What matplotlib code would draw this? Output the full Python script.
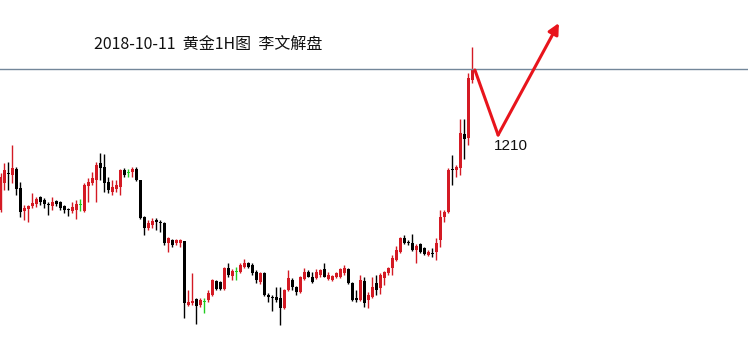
import numpy as np
import matplotlib
matplotlib.use('Agg')
from matplotlib import pyplot as plt

# 1H gold candles (open, high, low, close)
opens = [1209.0, 1211.7, 1212.7, 1212.5, 1213.1, 1211.2, 1208.9, 1209.1, 1209.4, 1209.6,
         1210.3, 1210.0, 1209.6, 1209.4, 1209.9, 1209.8, 1209.4, 1209.1, 1208.9, 1209.0,
         1209.5, 1208.9, 1211.4, 1211.7, 1212.0, 1213.7, 1213.3, 1211.8, 1210.8, 1211.1,
         1211.3, 1213.0, 1212.7, 1212.8, 1213.1, 1212.0, 1208.3, 1207.2, 1207.5, 1208.0,
         1207.8, 1207.7, 1205.7, 1206.0, 1205.7, 1205.7, 1205.9, 1199.5, 1199.7, 1200.1,
         1199.5, 1199.8, 1200.0, 1200.5, 1201.9, 1201.8, 1201.1, 1203.2, 1202.4, 1202.8,
         1202.8, 1203.3, 1203.7, 1203.5, 1202.8, 1201.8, 1202.7, 1200.5, 1200.3, 1200.3,
         1200.2, 1199.2, 1201.0, 1202.0, 1201.3, 1200.8, 1202.1, 1202.8, 1202.3, 1202.2,
         1202.5, 1203.1, 1202.1, 1202.0, 1202.3, 1202.3, 1202.7, 1203.1, 1201.7, 1200.2,
         1200.0, 1201.9, 1200.0, 1200.3, 1201.7, 1201.2, 1202.2, 1202.7, 1203.2, 1204.0,
         1204.8, 1206.2, 1205.8, 1205.7, 1205.0, 1205.6, 1205.2, 1204.5, 1204.7, 1204.8,
         1206.0, 1208.3, 1208.8, 1213.1, 1213.0, 1213.2, 1216.6, 1216.2, 1222.0]
highs = [1212.7, 1213.7, 1213.8, 1215.5, 1213.3, 1211.8, 1209.5, 1209.5, 1210.7, 1210.3,
         1210.4, 1210.2, 1209.8, 1210.3, 1210.0, 1209.9, 1209.5, 1209.2, 1209.8, 1210.0,
         1210.1, 1211.7, 1212.2, 1212.8, 1213.8, 1214.7, 1214.6, 1212.3, 1212.0, 1212.0,
         1213.1, 1213.2, 1213.1, 1213.3, 1213.3, 1212.0, 1208.4, 1208.0, 1208.2, 1208.2,
         1208.0, 1207.8, 1206.3, 1206.1, 1206.1, 1206.1, 1205.9, 1201.0, 1202.7, 1200.2,
         1200.2, 1200.2, 1201.0, 1202.1, 1202.0, 1201.9, 1203.3, 1203.7, 1203.1, 1203.3,
         1203.7, 1204.1, 1203.8, 1203.7, 1203.0, 1202.8, 1202.8, 1200.7, 1200.5, 1201.3,
         1201.3, 1201.1, 1203.0, 1202.2, 1201.4, 1202.4, 1203.2, 1203.0, 1202.8, 1203.1,
         1203.1, 1203.7, 1202.8, 1202.5, 1202.8, 1203.2, 1203.5, 1203.2, 1201.8, 1201.0,
         1202.5, 1202.3, 1200.8, 1202.3, 1202.5, 1202.7, 1202.9, 1203.3, 1204.5, 1205.4,
         1206.3, 1206.5, 1206.0, 1206.6, 1205.6, 1205.7, 1205.3, 1205.0, 1205.2, 1206.2,
         1209.0, 1209.0, 1213.2, 1214.5, 1213.5, 1218.1, 1218.1, 1222.7, 1225.3]
lows = [1208.8, 1211.0, 1211.0, 1211.7, 1210.5, 1208.3, 1208.0, 1207.8, 1209.2, 1209.3,
        1209.5, 1209.2, 1208.5, 1209.0, 1209.4, 1209.0, 1208.7, 1208.4, 1208.7, 1208.1,
        1208.9, 1208.8, 1209.8, 1211.5, 1209.8, 1212.0, 1210.8, 1210.7, 1210.5, 1210.8,
        1210.5, 1212.3, 1212.3, 1212.3, 1211.9, 1208.1, 1206.5, 1207.0, 1207.2, 1207.0,
        1206.8, 1205.5, 1204.8, 1205.3, 1205.5, 1205.3, 1198.2, 1199.4, 1199.5, 1197.6,
        1199.3, 1198.7, 1199.8, 1200.4, 1201.0, 1201.0, 1201.0, 1202.3, 1202.0, 1202.0,
        1202.7, 1203.2, 1203.2, 1202.5, 1201.7, 1201.6, 1200.4, 1199.8, 1198.9, 1199.8,
        1197.5, 1199.1, 1200.9, 1201.0, 1200.5, 1200.7, 1202.0, 1202.3, 1201.7, 1202.1,
        1202.3, 1202.3, 1202.0, 1201.9, 1202.2, 1202.2, 1202.5, 1201.6, 1199.9, 1199.8,
        1199.9, 1199.3, 1199.2, 1200.2, 1200.5, 1200.6, 1201.5, 1202.5, 1202.5, 1203.9,
        1204.7, 1205.6, 1205.5, 1204.9, 1203.7, 1204.7, 1204.5, 1204.4, 1204.3, 1204.0,
        1205.3, 1207.8, 1208.7, 1211.5, 1212.3, 1212.5, 1214.1, 1215.5, 1221.7]
closes = [1212.3, 1213.0, 1212.6, 1213.2, 1211.1, 1208.8, 1209.2, 1209.4, 1209.7, 1210.1,
          1209.8, 1209.6, 1209.5, 1209.8, 1209.6, 1209.2, 1209.0, 1209.0, 1209.3, 1209.6,
          1209.5, 1211.5, 1211.8, 1212.2, 1213.5, 1213.2, 1211.7, 1211.0, 1211.3, 1211.5,
          1213.0, 1212.5, 1212.7, 1213.1, 1212.0, 1208.2, 1207.2, 1207.7, 1207.9, 1207.8,
          1207.7, 1205.7, 1206.2, 1205.5, 1206.0, 1206.0, 1199.7, 1199.8, 1199.9, 1199.4,
          1200.0, 1199.8, 1200.7, 1202.0, 1201.1, 1201.1, 1203.2, 1202.5, 1202.9, 1202.8,
          1203.5, 1203.7, 1203.3, 1202.7, 1202.0, 1202.7, 1200.5, 1200.3, 1200.2, 1200.0,
          1199.2, 1201.0, 1202.2, 1201.3, 1200.8, 1202.3, 1202.8, 1202.3, 1201.8, 1202.8,
          1203.0, 1202.3, 1202.5, 1202.4, 1202.7, 1203.1, 1203.2, 1201.7, 1200.0, 1200.0,
          1202.0, 1199.7, 1200.5, 1201.3, 1201.0, 1202.5, 1202.8, 1203.2, 1204.2, 1205.0,
          1206.2, 1205.7, 1205.7, 1205.0, 1205.4, 1204.8, 1204.6, 1204.8, 1204.6, 1205.7,
          1208.3, 1208.8, 1213.0, 1213.0, 1213.3, 1216.7, 1216.1, 1222.2, 1223.1]

resist = 1223.1                       # horizontal line
path_x = [118.6, 124.4, 139.6]        # projected path: top -> pullback -> up
path_y = [1223.0, 1216.5, 1227.7]
target_lbl = '1210'
title = '2018-10-11  黄金1H图  李文解盘'

o = np.array(opens); h = np.array(highs); l = np.array(lows); c = np.array(closes)
x = np.arange(len(o))
cols = np.where(c > o, '#d41a24', np.where(c < o, '#000000', '#22cc22'))

fig = plt.figure(figsize=(7.48, 3.37), dpi=100)
ax = fig.add_axes([0, 0, 1, 1])
ax.vlines(x, l, h, colors=cols, lw=1)
body = np.maximum(np.abs(c - o), 0.12)
ax.bar(x, body, bottom=np.minimum(o, c), width=0.72, color=cols, lw=0)

ax.axhline(resist, color='#73879a', lw=1)

ax.plot(path_x[:2], path_y[:2], color='#e8141c', lw=2.2, solid_capstyle='round')
ax.annotate('', xy=(path_x[2], path_y[2]), xytext=(path_x[1], path_y[1]),
            arrowprops=dict(arrowstyle='-|>', color='#e8141c', lw=2.2,
                            mutation_scale=16, shrinkA=0, shrinkB=0))
ax.text(123.3, 1215.4, target_lbl, fontsize=11, va='center', ha='left',
        family='Liberation Sans', color='#111111')

fig.text(0.278, 0.866, title, ha='center', va='center', fontsize=11.5,
         family=['Noto Sans CJK SC', 'DejaVu Sans'], color='#111111')

ax.set_xlim(-0.125, 186.875)
ax.set_ylim(1196.3, 1230)
ax.axis('off')
fig.savefig('out.png', dpi=100, facecolor='white')
